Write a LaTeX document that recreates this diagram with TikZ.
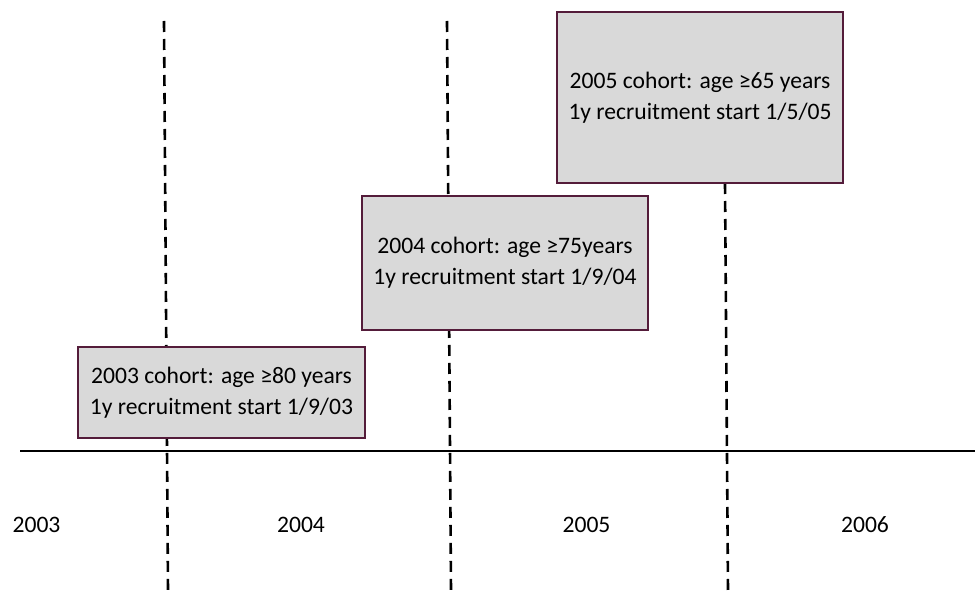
\documentclass[tikz,border=0pt]{standalone}
\usepackage{fontspec}
\setmainfont{Carlito}
\definecolor{boxborder}{RGB}{84,28,58}
\definecolor{boxfill}{RGB}{217,217,217}
\tikzset{
  cohortbox/.style={draw=boxborder, fill=boxfill, line width=2pt, align=center,
    inner sep=0pt, font=\fontsize{23.6}{31}\selectfont},
  yearlabel/.style={font=\fontsize{23.6}{28}\selectfont, inner sep=0pt},
  dashline/.style={line width=2.6pt, dash pattern=on 11pt off 7pt},
  axisline/.style={line width=2pt}
}
\begin{document}
\begin{tikzpicture}[x=1pt,y=-1pt]
\useasboundingbox (0,0) rectangle (975,591);
% dashed year separators
\coordinate (t1) at (164,21);  \coordinate (b1) at (168,591);
\coordinate (t2) at (447,21);  \coordinate (b2) at (451,591);
\coordinate (t3) at (725,183); \coordinate (b3) at (728,591);
\draw[dashline] (t1) -- (b1);
\draw[dashline] (t2) -- (b2);
\draw[dashline] (t3) -- (b3);
% time axis
\coordinate (axl) at (20,451);
\coordinate (axr) at (975,451);
\draw[axisline] (axl) -- (axr);
% cohort boxes
\node[cohortbox, minimum width=287pt, minimum height=91pt] (c2003) at (221.5,392.5)
  {2003 cohort: age ≥80 years\\1y recruitment start 1/9/03};
\node[cohortbox, minimum width=286pt, minimum height=134pt] (c2004) at (505,263)
  {2004 cohort: age ≥75years\\1y recruitment start 1/9/04};
\node[cohortbox, minimum width=286pt, minimum height=171pt] (c2005) at (700,97.5)
  {2005 cohort: age ≥65 years\\1y recruitment start 1/5/05};
% year labels
\node[yearlabel] (y2003) at (36.5,524.5) {2003};
\node[yearlabel] (y2004) at (301,524.5) {2004};
\node[yearlabel] (y2005) at (586.5,524.5) {2005};
\node[yearlabel] (y2006) at (865,524.5) {2006};
\end{tikzpicture}
\end{document}
